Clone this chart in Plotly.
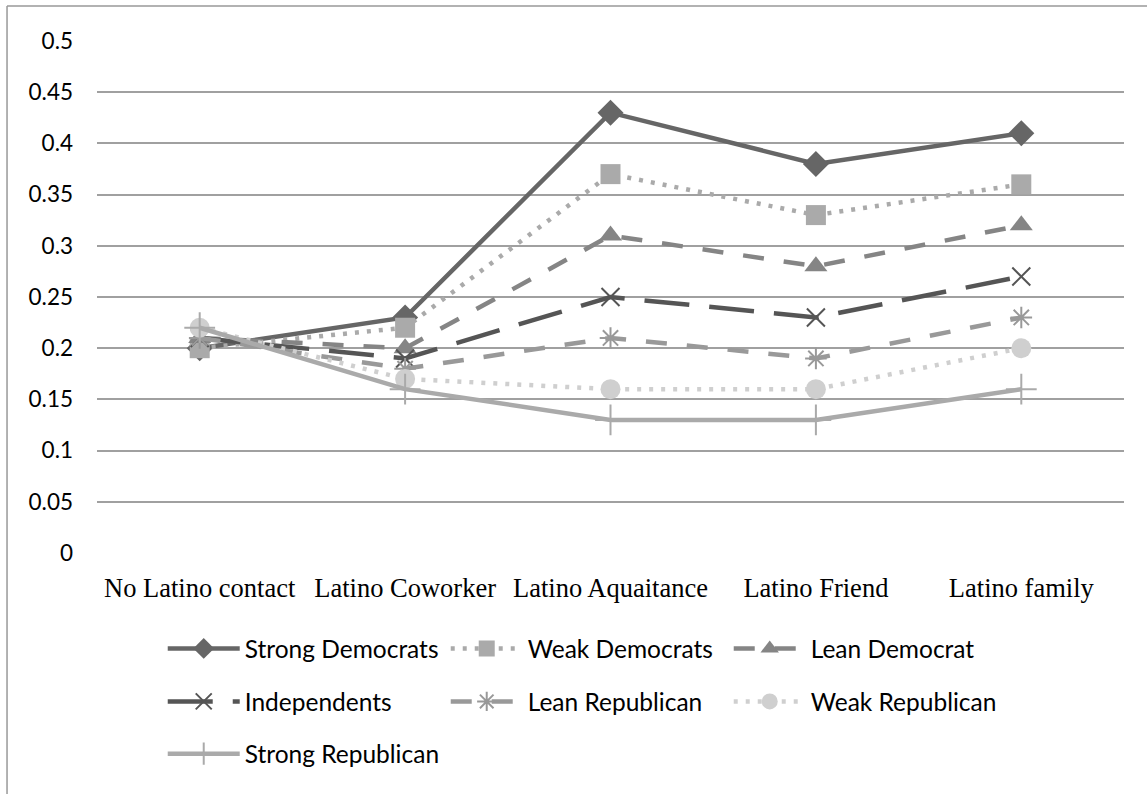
import plotly.graph_objects as go

categories = ["No Latino contact", "Latino Coworker", "Latino Aquaitance", "Latino Friend", "Latino family"]
strong_dem = [0.20, 0.23, 0.43, 0.38, 0.41]
weak_dem = [0.20, 0.22, 0.37, 0.33, 0.36]
lean_dem = [0.21, 0.20, 0.31, 0.28, 0.32]
independents = [0.21, 0.19, 0.25, 0.23, 0.27]
lean_rep = [0.21, 0.18, 0.21, 0.19, 0.23]
weak_rep = [0.22, 0.17, 0.16, 0.16, 0.20]
strong_rep = [0.22, 0.16, 0.13, 0.13, 0.16]
y_ticks = [0, 0.05, 0.1, 0.15, 0.2, 0.25, 0.3, 0.35, 0.4, 0.45, 0.5]
y_labels = ["0", "0.05", "0.1", "0.15", "0.2", "0.25", "0.3", "0.35", "0.4", "0.45", "0.5"]

series = [
    ("Strong Democrats", strong_dem, "#666666", "solid", "diamond", 20, "legend"),
    ("Weak Democrats", weak_dem, "#aaaaaa", "4px,8px", "square", 20, "legend"),
    ("Lean Democrat", lean_dem, "#858585", "21px,20px", "triangle-up", 20, "legend"),
    ("Independents", independents, "#555555", "45px,20px", "x-thin-open", 18, "legend2"),
    ("Lean Republican", lean_rep, "#999999", "21px,20px", "asterisk-open", 18, "legend2"),
    ("Weak Republican", weak_rep, "#cfcfcf", "4px,8px", "circle", 20, "legend2"),
    ("Strong Republican", strong_rep, "#aaaaaa", "solid", "cross-thin-open", 22, "legend3"),
]

fig = go.Figure()
for name, vals, color, dash, sym, size, leg in series:
    open_sym = sym.endswith("-open")
    fig.add_trace(go.Scatter(
        x=categories, y=vals, name=name, mode="lines+markers",
        line=dict(color=color, width=4.5, dash=dash),
        marker=dict(symbol=sym, size=size, color=color,
                    line=dict(color=color, width=2 if open_sym else 0)),
        legend=leg,
    ))

font_sans = "Lato, 'Noto Sans', sans-serif"
legend_common = dict(orientation="h", xanchor="left", yanchor="middle",
                     font=dict(family=font_sans, size=24.5, color="#000000"),
                     itemwidth=72, entrywidth=196, bgcolor="rgba(0,0,0,0)")

fig.update_layout(
    width=1147, height=794,
    margin=dict(l=97, r=23, t=41, b=241),
    plot_bgcolor="white", paper_bgcolor="white",
    xaxis=dict(type="category", range=[-0.5, 4.5], showgrid=False, zeroline=False,
               showline=False, ticks="", ticklabelstandoff=16,
               tickfont=dict(family="'Liberation Serif', 'Times New Roman', serif", size=26.5, color="#000000")),
    yaxis=dict(range=[0, 0.5], tickvals=y_ticks, ticktext=y_labels, showgrid=True,
               gridcolor="#a0a0a0", gridwidth=1.5, zeroline=False, showline=False,
               ticks="", ticklabelstandoff=23,
               tickfont=dict(family=font_sans, size=22.5, color="#000000")),
    legend=dict(x=0.064, y=-0.1865, **legend_common),
    legend2=dict(x=0.064, y=-0.290, **legend_common),
    legend3=dict(x=0.064, y=-0.392, **legend_common),
    shapes=[
        dict(type="line", xref="paper", yref="paper", x0=-0.0876, x1=1.2, y0=1.0685, y1=1.0685,
             line=dict(color="#999999", width=1.5)),
        dict(type="line", xref="paper", yref="paper", x0=-0.0876, x1=-0.0876, y0=-0.6, y1=1.0685,
             line=dict(color="#999999", width=1.5)),
    ],
)

fig.write_html("out.html", config={"displayModeBar": False},
               post_script="document.body.style.margin='0';")
